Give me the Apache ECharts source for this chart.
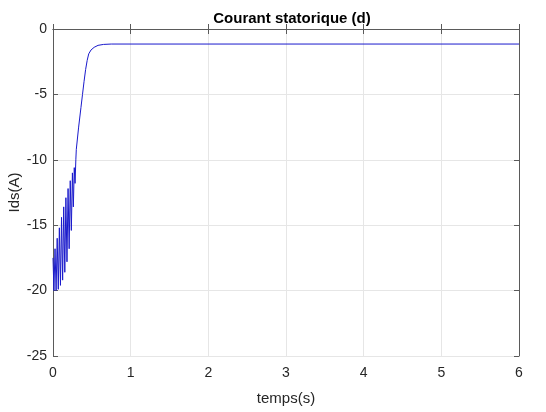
<!DOCTYPE html>
<html>
<head>
<meta charset="utf-8">
<script src="https://cdn.jsdelivr.net/npm/echarts@6/dist/echarts.min.js"></script>
<style>
  html, body { margin: 0; padding: 0; background: #fff; }
  #chart { width: 546px; height: 412px; }
</style>
</head>
<body>
<div id="chart"></div>
<script>
// Stator current, d-axis component (A) versus time (s)
const timeS = [
  0.000, 0.012, 0.026, 0.040, 0.054, 0.068, 0.082, 0.096, 0.110, 0.124,
  0.138, 0.152, 0.166, 0.180, 0.194, 0.208, 0.222, 0.236, 0.250, 0.262,
  0.274, 0.284, 0.294, 0.300, 0.330, 0.360, 0.380, 0.400, 0.420, 0.440,
  0.460, 0.490, 0.530, 0.580, 0.650, 0.750, 6.000
];
const idsA = [
  -17.5, -20.0, -16.8, -20.0, -16.0, -19.9, -15.2, -19.6, -14.4, -19.2,
  -13.6, -18.6, -12.9, -17.8, -12.2, -16.8, -11.6, -15.4, -11.0, -13.6,
  -10.6, -11.8, -10.0, -9.2, -7.5, -6.0, -5.0, -4.0, -3.1, -2.4,
  -1.9, -1.6, -1.4, -1.25, -1.18, -1.15, -1.15
];
const xTicks = [0, 1, 2, 3, 4, 5, 6];
const yTicks = [-25, -20, -15, -10, -5, 0];

const chart = echarts.init(document.getElementById('chart'));
const axisColor = '#5a5a5a';
const font = 'Liberation Sans, Arial, sans-serif';

const baseX = {
  type: 'value', min: xTicks[0], max: xTicks[xTicks.length - 1], interval: 1,
  axisLine: { show: true, lineStyle: { color: axisColor, width: 1 } },
  axisTick: { show: true, inside: true, length: 5, lineStyle: { color: axisColor } }
};
const baseY = {
  type: 'value', min: yTicks[0], max: yTicks[yTicks.length - 1], interval: 5,
  axisLine: { show: true, onZero: false, lineStyle: { color: axisColor, width: 1 } },
  axisTick: { show: true, inside: true, length: 5, lineStyle: { color: axisColor } }
};

chart.setOption({
  animation: false,
  backgroundColor: '#ffffff',
  title: {
    text: 'Courant statorique (d)',
    left: 287, top: 6, textAlign: 'center',
    textStyle: { fontFamily: font, fontSize: 15, fontWeight: 'bold', color: '#000' }
  },
  grid: { left: 53, right: 27, top: 29, bottom: 56, containLabel: false, outerBoundsMode: 'none' },
  xAxis: [
    Object.assign({}, baseX, {
      position: 'bottom',
      name: 'temps(s)', nameLocation: 'middle', nameGap: 35,
      nameTextStyle: { fontFamily: font, fontSize: 15, color: '#262626' },
      axisLabel: { fontFamily: font, fontSize: 14, color: '#262626', margin: 10 },
      splitLine: { show: true, lineStyle: { color: '#e6e6e6', width: 1 } }
    }),
    Object.assign({}, baseX, {
      position: 'top',
      axisLabel: { show: false },
      splitLine: { show: false }
    })
  ],
  yAxis: [
    Object.assign({}, baseY, {
      position: 'left',
      name: 'Ids(A)', nameLocation: 'middle', nameGap: 31, nameRotate: 90,
      nameMoveOverlap: false,
      nameTextStyle: { fontFamily: font, fontSize: 15, color: '#262626' },
      axisLabel: { fontFamily: font, fontSize: 14, color: '#262626', margin: 6 },
      splitLine: { show: true, lineStyle: { color: '#e6e6e6', width: 1 } }
    }),
    Object.assign({}, baseY, {
      position: 'right',
      axisLabel: { show: false },
      splitLine: { show: false }
    })
  ],
  series: [{
    type: 'line',
    xAxisIndex: 0, yAxisIndex: 0,
    data: timeS.map((t, i) => [t, idsA[i]]),
    showSymbol: false,
    smooth: false,
    lineStyle: { color: '#1a1acc', width: 1 },
    itemStyle: { color: '#1a1acc' }
  }]
});
</script>
</body>
</html>
